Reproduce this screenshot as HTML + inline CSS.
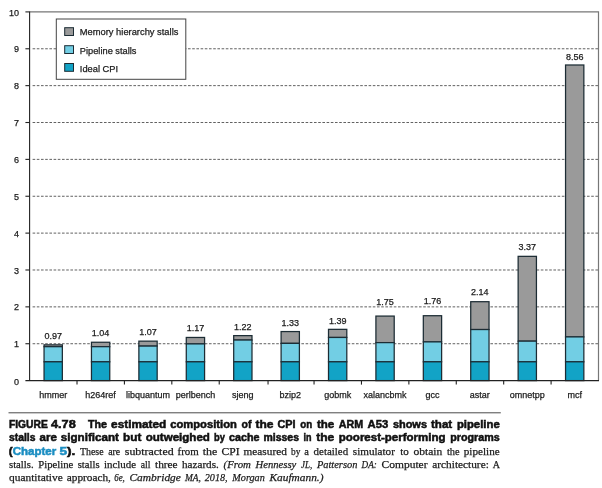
<!DOCTYPE html>
<html><head><meta charset="utf-8"><title>Figure 4.78</title>
<style>html,body{margin:0;padding:0;background:#fff;}body{width:602px;height:488px;overflow:hidden;}svg{display:block;filter:blur(0.35px);}text{font-family:"Liberation Sans",sans-serif;}.s{font-family:"Liberation Serif",serif;}</style>
</head><body>
<svg width="602" height="488" viewBox="0 0 602 488">
<rect x="0" y="0" width="602" height="488" fill="#ffffff"/>
<g stroke="#3a3a3a" stroke-width="0.8" stroke-dasharray="2.6 1.6" fill="none">
<line x1="32.60" y1="343.73" x2="598.50" y2="343.73"/>
<line x1="32.60" y1="306.86" x2="598.50" y2="306.86"/>
<line x1="32.60" y1="269.99" x2="598.50" y2="269.99"/>
<line x1="32.60" y1="233.12" x2="598.50" y2="233.12"/>
<line x1="32.60" y1="196.25" x2="598.50" y2="196.25"/>
<line x1="32.60" y1="159.38" x2="598.50" y2="159.38"/>
<line x1="32.60" y1="122.51" x2="598.50" y2="122.51"/>
<line x1="32.60" y1="85.64" x2="598.50" y2="85.64"/>
<line x1="32.60" y1="48.77" x2="598.50" y2="48.77"/>
</g>
<path d="M29.60 11.90 H598.50 V380.60" fill="none" stroke="#777" stroke-width="1.2"/>
<g stroke="#1c2c34" stroke-width="1.25">
<rect x="44.05" y="344.84" width="18.3" height="1.84" fill="#9a9a9a"/>
<rect x="44.05" y="346.68" width="18.3" height="15.12" fill="#72cee4"/>
<rect x="44.05" y="361.80" width="18.3" height="18.80" fill="#12a3c6"/>
<rect x="91.46" y="342.26" width="18.3" height="4.42" fill="#9a9a9a"/>
<rect x="91.46" y="346.68" width="18.3" height="15.12" fill="#72cee4"/>
<rect x="91.46" y="361.80" width="18.3" height="18.80" fill="#12a3c6"/>
<rect x="138.87" y="341.15" width="18.3" height="4.94" fill="#9a9a9a"/>
<rect x="138.87" y="346.09" width="18.3" height="15.71" fill="#72cee4"/>
<rect x="138.87" y="361.80" width="18.3" height="18.80" fill="#12a3c6"/>
<rect x="186.28" y="337.46" width="18.3" height="6.45" fill="#9a9a9a"/>
<rect x="186.28" y="343.91" width="18.3" height="17.88" fill="#72cee4"/>
<rect x="186.28" y="361.80" width="18.3" height="18.80" fill="#12a3c6"/>
<rect x="233.69" y="335.62" width="18.3" height="4.42" fill="#9a9a9a"/>
<rect x="233.69" y="340.04" width="18.3" height="21.75" fill="#72cee4"/>
<rect x="233.69" y="361.80" width="18.3" height="18.80" fill="#12a3c6"/>
<rect x="281.10" y="331.56" width="18.3" height="11.80" fill="#9a9a9a"/>
<rect x="281.10" y="343.36" width="18.3" height="18.44" fill="#72cee4"/>
<rect x="281.10" y="361.80" width="18.3" height="18.80" fill="#12a3c6"/>
<rect x="328.50" y="329.35" width="18.3" height="8.11" fill="#9a9a9a"/>
<rect x="328.50" y="337.46" width="18.3" height="24.33" fill="#72cee4"/>
<rect x="328.50" y="361.80" width="18.3" height="18.80" fill="#12a3c6"/>
<rect x="375.91" y="316.08" width="18.3" height="26.55" fill="#9a9a9a"/>
<rect x="375.91" y="342.62" width="18.3" height="19.17" fill="#72cee4"/>
<rect x="375.91" y="361.80" width="18.3" height="18.80" fill="#12a3c6"/>
<rect x="423.32" y="315.71" width="18.3" height="26.18" fill="#9a9a9a"/>
<rect x="423.32" y="341.89" width="18.3" height="19.91" fill="#72cee4"/>
<rect x="423.32" y="361.80" width="18.3" height="18.80" fill="#12a3c6"/>
<rect x="470.73" y="301.70" width="18.3" height="27.84" fill="#9a9a9a"/>
<rect x="470.73" y="329.54" width="18.3" height="32.26" fill="#72cee4"/>
<rect x="470.73" y="361.80" width="18.3" height="18.80" fill="#12a3c6"/>
<rect x="518.14" y="256.35" width="18.3" height="84.80" fill="#9a9a9a"/>
<rect x="518.14" y="341.15" width="18.3" height="20.65" fill="#72cee4"/>
<rect x="518.14" y="361.80" width="18.3" height="18.80" fill="#12a3c6"/>
<rect x="565.55" y="64.99" width="18.3" height="271.92" fill="#9a9a9a"/>
<rect x="565.55" y="336.91" width="18.3" height="24.89" fill="#72cee4"/>
<rect x="565.55" y="361.80" width="18.3" height="18.80" fill="#12a3c6"/>
</g>
<g stroke="#222" stroke-width="1.1" fill="none">
<line x1="29.60" y1="11.40" x2="29.60" y2="381.10"/>
<line x1="25.40" y1="380.60" x2="599.00" y2="380.60"/>
<line x1="25.40" y1="343.73" x2="29.60" y2="343.73"/>
<line x1="25.40" y1="306.86" x2="29.60" y2="306.86"/>
<line x1="25.40" y1="269.99" x2="29.60" y2="269.99"/>
<line x1="25.40" y1="233.12" x2="29.60" y2="233.12"/>
<line x1="25.40" y1="196.25" x2="29.60" y2="196.25"/>
<line x1="25.40" y1="159.38" x2="29.60" y2="159.38"/>
<line x1="25.40" y1="122.51" x2="29.60" y2="122.51"/>
<line x1="25.40" y1="85.64" x2="29.60" y2="85.64"/>
<line x1="25.40" y1="48.77" x2="29.60" y2="48.77"/>
<line x1="25.40" y1="11.90" x2="29.60" y2="11.90"/>
<line x1="77.01" y1="380.60" x2="77.01" y2="384.60"/>
<line x1="124.42" y1="380.60" x2="124.42" y2="384.60"/>
<line x1="171.82" y1="380.60" x2="171.82" y2="384.60"/>
<line x1="219.23" y1="380.60" x2="219.23" y2="384.60"/>
<line x1="268.04" y1="380.60" x2="268.04" y2="384.60"/>
<line x1="314.05" y1="380.60" x2="314.05" y2="384.60"/>
<line x1="361.46" y1="380.60" x2="361.46" y2="384.60"/>
<line x1="408.87" y1="380.60" x2="408.87" y2="384.60"/>
<line x1="456.27" y1="380.60" x2="456.27" y2="384.60"/>
<line x1="503.68" y1="380.60" x2="503.68" y2="384.60"/>
<line x1="551.09" y1="380.60" x2="551.09" y2="384.60"/>
</g>
<g font-size="9" fill="#1c1c1c" stroke="#1c1c1c" stroke-width="0.25" text-anchor="end">
<text x="19" y="384.80">0</text>
<text x="19" y="347.33">1</text>
<text x="19" y="310.46">2</text>
<text x="19" y="273.59">3</text>
<text x="19" y="236.72">4</text>
<text x="19" y="199.85">5</text>
<text x="19" y="162.98">6</text>
<text x="19" y="126.11">7</text>
<text x="19" y="89.24">8</text>
<text x="19" y="52.37">9</text>
<text x="19" y="15.50">10</text>
</g>
<g font-size="9" fill="#1c1c1c" stroke="#1c1c1c" stroke-width="0.25" text-anchor="middle">
<text x="53.20" y="397.7">hmmer</text>
<text x="53.20" y="338.84">0.97</text>
<text x="100.61" y="397.7">h264ref</text>
<text x="100.61" y="336.20">1.04</text>
<text x="148.02" y="397.7">libquantum</text>
<text x="148.02" y="335.40">1.07</text>
<text x="195.43" y="397.7">perlbench</text>
<text x="195.43" y="331.20">1.17</text>
<text x="242.84" y="397.7">sjeng</text>
<text x="242.84" y="329.70">1.22</text>
<text x="290.25" y="397.7">bzip2</text>
<text x="290.25" y="325.60">1.33</text>
<text x="337.65" y="397.7">gobmk</text>
<text x="337.65" y="323.80">1.39</text>
<text x="385.06" y="397.7">xalancbmk</text>
<text x="385.06" y="304.60">1.75</text>
<text x="432.47" y="397.7">gcc</text>
<text x="432.47" y="304.10">1.76</text>
<text x="479.88" y="397.7">astar</text>
<text x="479.88" y="295.20">2.14</text>
<text x="527.29" y="397.7">omnetpp</text>
<text x="527.29" y="250.00">3.37</text>
<text x="574.70" y="397.7">mcf</text>
<text x="574.70" y="59.60">8.56</text>
</g>
<rect x="56.3" y="19.0" width="129.5" height="60.3" fill="#fff" stroke="#444" stroke-width="1"/>
<g stroke="#1c2c34" stroke-width="1">
<rect x="64.7" y="27.7" width="8.8" height="7.8" fill="#9a9a9a"/>
<rect x="64.7" y="45.699999999999996" width="8.8" height="7.8" fill="#72cee4"/>
<rect x="64.7" y="63.5" width="8.8" height="7.8" fill="#12a3c6"/>
</g>
<g font-size="9.3" fill="#1c1c1c" stroke="#1c1c1c" stroke-width="0.25">
<text x="79.8" y="35.1" textLength="98.6" lengthAdjust="spacingAndGlyphs">Memory hierarchy stalls</text>
<text x="79.8" y="53.7" textLength="56.7" lengthAdjust="spacingAndGlyphs">Pipeline stalls</text>
<text x="79.8" y="71.6">Ideal CPI</text>
</g>
<line x1="8.5" y1="412.8" x2="500.8" y2="412.8" stroke="#4a4a4a" stroke-width="1"/>
<g font-size="10.4" font-weight="bold" fill="#111" stroke="#111" stroke-width="0.5">
<text x="8.9" y="427.6" textLength="38.9" lengthAdjust="spacingAndGlyphs">FIGURE</text>
<text x="51.0" y="427.6" textLength="24.7" lengthAdjust="spacingAndGlyphs">4.78</text>
<text x="87.9" y="427.6" textLength="19.0" lengthAdjust="spacingAndGlyphs">The</text>
<text x="111.1" y="427.6" textLength="55.2" lengthAdjust="spacingAndGlyphs">estimated</text>
<text x="170.2" y="427.6" textLength="66.7" lengthAdjust="spacingAndGlyphs">composition</text>
<text x="241.6" y="427.6" textLength="9.9" lengthAdjust="spacingAndGlyphs">of</text>
<text x="255.5" y="427.6" textLength="18.0" lengthAdjust="spacingAndGlyphs">the</text>
<text x="277.5" y="427.6" textLength="18.1" lengthAdjust="spacingAndGlyphs">CPI</text>
<text x="300.3" y="427.6" textLength="11.9" lengthAdjust="spacingAndGlyphs">on</text>
<text x="316.9" y="427.6" textLength="17.3" lengthAdjust="spacingAndGlyphs">the</text>
<text x="338.8" y="427.6" textLength="24.4" lengthAdjust="spacingAndGlyphs">ARM</text>
<text x="367.6" y="427.6" textLength="20.6" lengthAdjust="spacingAndGlyphs">A53</text>
<text x="392.9" y="427.6" textLength="34.1" lengthAdjust="spacingAndGlyphs">shows</text>
<text x="431.0" y="427.6" textLength="21.2" lengthAdjust="spacingAndGlyphs">that</text>
<text x="456.9" y="427.6" textLength="42.8" lengthAdjust="spacingAndGlyphs">pipeline</text>
<text x="9.0" y="440.9" textLength="26.5" lengthAdjust="spacingAndGlyphs">stalls</text>
<text x="39.5" y="440.9" textLength="17.3" lengthAdjust="spacingAndGlyphs">are</text>
<text x="60.8" y="440.9" textLength="58.1" lengthAdjust="spacingAndGlyphs">significant</text>
<text x="123.1" y="440.9" textLength="18.3" lengthAdjust="spacingAndGlyphs">but</text>
<text x="145.7" y="440.9" textLength="64.2" lengthAdjust="spacingAndGlyphs">outweighed</text>
<text x="214.1" y="440.9" textLength="10.9" lengthAdjust="spacingAndGlyphs">by</text>
<text x="229.0" y="440.9" textLength="30.5" lengthAdjust="spacingAndGlyphs">cache</text>
<text x="263.5" y="440.9" textLength="35.5" lengthAdjust="spacingAndGlyphs">misses</text>
<text x="303.6" y="440.9" textLength="8.0" lengthAdjust="spacingAndGlyphs">in</text>
<text x="316.2" y="440.9" textLength="18.0" lengthAdjust="spacingAndGlyphs">the</text>
<text x="338.8" y="440.9" textLength="106.8" lengthAdjust="spacingAndGlyphs">poorest-performing</text>
<text x="450.2" y="440.9" textLength="49.5" lengthAdjust="spacingAndGlyphs">programs</text>
<text x="8.8" y="454.5" textLength="47.4" lengthAdjust="spacingAndGlyphs">(<tspan fill="#1b8ec2" stroke="#1b8ec2">Chapter</tspan></text>
<text x="59.5" y="454.5" textLength="15.9" lengthAdjust="spacingAndGlyphs"><tspan fill="#1b8ec2" stroke="#1b8ec2">5</tspan>).</text>
</g>
<g font-size="11.2" fill="#1a1a1a" stroke="#1a1a1a" stroke-width="0.25">
<text x="80.0" y="454.5" textLength="23.6" lengthAdjust="spacingAndGlyphs" class="s">These</text>
<text x="108.2" y="454.5" textLength="12.0" lengthAdjust="spacingAndGlyphs" class="s">are</text>
<text x="124.8" y="454.5" textLength="48.8" lengthAdjust="spacingAndGlyphs" class="s">subtracted</text>
<text x="177.6" y="454.5" textLength="21.2" lengthAdjust="spacingAndGlyphs" class="s">from</text>
<text x="202.8" y="454.5" textLength="14.6" lengthAdjust="spacingAndGlyphs" class="s">the</text>
<text x="221.6" y="454.5" textLength="18.0" lengthAdjust="spacingAndGlyphs" class="s">CPI</text>
<text x="243.6" y="454.5" textLength="43.2" lengthAdjust="spacingAndGlyphs" class="s">measured</text>
<text x="291.0" y="454.5" textLength="9.3" lengthAdjust="spacingAndGlyphs" class="s">by</text>
<text x="304.3" y="454.5" textLength="4.6" lengthAdjust="spacingAndGlyphs" class="s">a</text>
<text x="313.6" y="454.5" textLength="34.5" lengthAdjust="spacingAndGlyphs" class="s">detailed</text>
<text x="352.8" y="454.5" textLength="42.1" lengthAdjust="spacingAndGlyphs" class="s">simulator</text>
<text x="400.2" y="454.5" textLength="8.6" lengthAdjust="spacingAndGlyphs" class="s">to</text>
<text x="413.5" y="454.5" textLength="28.8" lengthAdjust="spacingAndGlyphs" class="s">obtain</text>
<text x="446.9" y="454.5" textLength="12.7" lengthAdjust="spacingAndGlyphs" class="s">the</text>
<text x="463.8" y="454.5" textLength="35.9" lengthAdjust="spacingAndGlyphs" class="s">pipeline</text>
<text x="9.0" y="468.1" textLength="24.6" lengthAdjust="spacingAndGlyphs" class="s">stalls.</text>
<text x="38.2" y="468.1" textLength="35.2" lengthAdjust="spacingAndGlyphs" class="s">Pipeline</text>
<text x="77.7" y="468.1" textLength="21.9" lengthAdjust="spacingAndGlyphs" class="s">stalls</text>
<text x="104.0" y="468.1" textLength="32.1" lengthAdjust="spacingAndGlyphs" class="s">include</text>
<text x="140.8" y="468.1" textLength="9.7" lengthAdjust="spacingAndGlyphs" class="s">all</text>
<text x="155.0" y="468.1" textLength="22.6" lengthAdjust="spacingAndGlyphs" class="s">three</text>
<text x="182.0" y="468.1" textLength="36.8" lengthAdjust="spacingAndGlyphs" class="s">hazards.</text>
<text x="223.6" y="468.1" textLength="27.3" lengthAdjust="spacingAndGlyphs" class="s" font-style="italic">(From</text>
<text x="255.5" y="468.1" textLength="40.8" lengthAdjust="spacingAndGlyphs" class="s" font-style="italic">Hennessy</text>
<text x="301.0" y="468.1" textLength="11.2" lengthAdjust="spacingAndGlyphs" class="s" font-style="italic">JL,</text>
<text x="316.9" y="468.1" textLength="40.5" lengthAdjust="spacingAndGlyphs" class="s" font-style="italic">Patterson</text>
<text x="361.6" y="468.1" textLength="15.3" lengthAdjust="spacingAndGlyphs" class="s" font-style="italic">DA:</text>
<text x="381.6" y="468.1" textLength="45.9" lengthAdjust="spacingAndGlyphs" class="s">Computer</text>
<text x="432.3" y="468.1" textLength="56.5" lengthAdjust="spacingAndGlyphs" class="s">architecture:</text>
<text x="492.8" y="468.1" textLength="7.2" lengthAdjust="spacingAndGlyphs" class="s">A</text>
<text x="9.0" y="481.4" textLength="53.8" lengthAdjust="spacingAndGlyphs" class="s">quantitative</text>
<text x="66.8" y="481.4" textLength="44.1" lengthAdjust="spacingAndGlyphs" class="s">approach,</text>
<text x="114.2" y="481.4" textLength="10.6" lengthAdjust="spacingAndGlyphs" class="s" font-style="italic">6e,</text>
<text x="129.5" y="481.4" textLength="51.4" lengthAdjust="spacingAndGlyphs" class="s" font-style="italic">Cambridge</text>
<text x="184.9" y="481.4" textLength="15.9" lengthAdjust="spacingAndGlyphs" class="s" font-style="italic">MA,</text>
<text x="204.8" y="481.4" textLength="22.8" lengthAdjust="spacingAndGlyphs" class="s" font-style="italic">2018,</text>
<text x="232.3" y="481.4" textLength="32.5" lengthAdjust="spacingAndGlyphs" class="s" font-style="italic">Morgan</text>
<text x="269.5" y="481.4" textLength="54.0" lengthAdjust="spacingAndGlyphs" class="s" font-style="italic">Kaufmann.)</text>
</g>
</svg>
</body></html>
